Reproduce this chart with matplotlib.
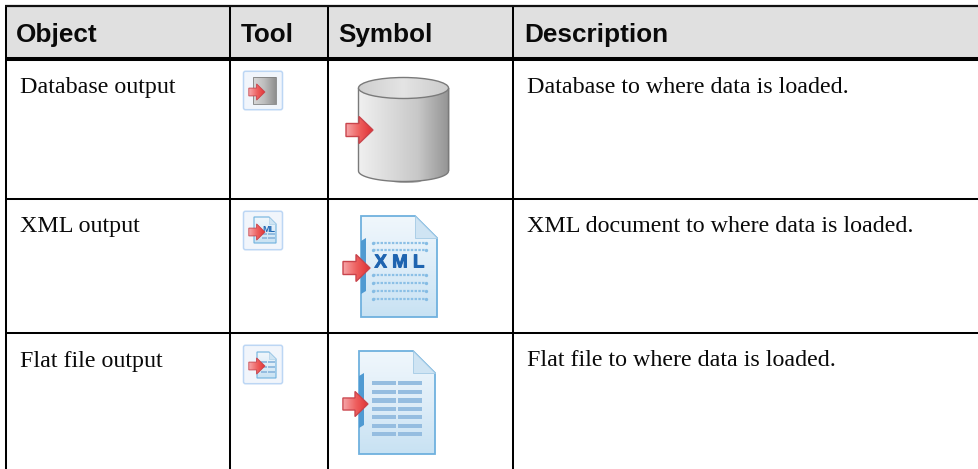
import numpy as np
import matplotlib
matplotlib.use("Agg")
import matplotlib.pyplot as plt
import matplotlib.patheffects as pe
from matplotlib.patches import Polygon, Rectangle, Ellipse, FancyBboxPatch
from matplotlib.colors import LinearSegmentedColormap as LSC

headers = ["Object", "Tool", "Symbol", "Description"]
objects = ["Database output", "XML output", "Flat file output"]
descriptions = ["Database to where data is loaded.",
                "XML document to where data is loaded.",
                "Flat file to where data is loaded."]
kinds = ["db", "xml", "flat"]

W, H = 979, 469
col_edges = [6, 230.5, 328, 513.5]
row_edges = [6.3, 59, 199, 333.5]
header_x = [16, 241, 338, 524]
header_baseline = [42.0, 41.5, 42.0, 42.0]
row_baseline = [93, 232, 366.5]
icon_tops = [71, 211, 345]

fig = plt.figure(figsize=(W / 100, H / 100), dpi=100, facecolor="white")
ax = fig.add_axes([0, 0, 1, 1])
ax.set_xlim(0, W)
ax.set_ylim(H, 0)
ax.axis("off")

ax.add_patch(Rectangle((col_edges[0], row_edges[0]), W - col_edges[0],
                       row_edges[1] - row_edges[0], fc="#e0e0e0", ec="none", zorder=0))
for x in col_edges:
    ax.plot([x, x], [row_edges[0], H], color="black", lw=1.45, zorder=5, solid_capstyle="butt")
ax.plot([5, W], [row_edges[0]] * 2, color="#111111", lw=1.6, zorder=5, solid_capstyle="butt")
ax.plot([5, W], [row_edges[1]] * 2, color="black", lw=2.9, zorder=5, solid_capstyle="butt")
for y in row_edges[2:]:
    ax.plot([5, W], [y, y], color="black", lw=1.45, zorder=5, solid_capstyle="butt")

for x, b, h in zip(header_x, header_baseline, headers):
    ax.text(x, b, h, family="Liberation Sans", weight="bold",
            fontsize=18.85, va="baseline", ha="left", color="#0a0a0a")
for obj, desc, y in zip(objects, descriptions, row_baseline):
    ax.text(20, y, obj, family="Liberation Serif", fontsize=17.3,
            va="baseline", ha="left", color="#0a0a0a")
    ax.text(527, y, desc, family="Liberation Serif", fontsize=17.3,
            va="baseline", ha="left", color="#0a0a0a")


def grad(x0, y0, x1, y1, colors, clip, horizontal=True, z=2):
    g = np.linspace(0, 1, 64)
    g = g[None, :] if horizontal else g[:, None]
    im = ax.imshow(g, extent=[x0, x1, y1, y0], cmap=LSC.from_list("g", colors),
                   aspect="auto", zorder=z, interpolation="bilinear")
    im.set_clip_path(clip)
    return im


def arrow(tip, cy, s):
    pts = [(tip - 27 * s, cy - 6.5 * s), (tip - 14 * s, cy - 6.5 * s), (tip - 14 * s, cy - 13.5 * s),
           (tip, cy), (tip - 14 * s, cy + 13.5 * s), (tip - 14 * s, cy + 6.5 * s), (tip - 27 * s, cy + 6.5 * s)]
    p = Polygon(pts, closed=True, fc="none", ec="#c9444c", lw=1.0 * max(s, .5), zorder=8)
    ax.add_patch(p)
    grad(tip - 27 * s, cy - 13.5 * s, tip, cy + 13.5 * s, ["#f6a5a8", "#ee5f5e", "#e03034"], p, z=7)


def cylinder(x0, x1, top, bottom, ry, lw=1.0):
    cx, rx = (x0 + x1) / 2, (x1 - x0) / 2
    t = np.linspace(0, np.pi, 40)
    arc = list(zip(cx + rx * np.cos(t), bottom + ry * np.sin(t)))
    ax.add_patch(Ellipse((cx + 3, bottom + ry - .5), 30, 4, fc="#a8a8a8", ec="none", zorder=2))
    ax.add_patch(Rectangle((x1, top), 2, bottom - top, fc="#d8d8d8", ec="none", zorder=2))
    body = Polygon([(x1, top)] + arc + [(x0, top)], closed=True, fc="none", ec="#7a7a7a", lw=lw, zorder=4)
    ax.add_patch(body)
    grad(x0, top, x1, bottom + ry, ["#f0f0f0", "#dcdcdc", "#c8c8c8", "#969696"], body, z=3)
    lid = Ellipse((cx, top), x1 - x0, 2 * ry, fc="none", ec="#7a7a7a", lw=lw, zorder=5)
    ax.add_patch(lid)
    grad(x0, top - ry, x1, top + ry, ["#cfcfcf", "#e4e4e4", "#cccccc"], lid, z=4.5)


def document(x0, x1, y0, y1, fold, lw=1.3, spine=None):
    pts = [(x0, y0), (x1 - fold, y0), (x1, y0 + fold), (x1, y1), (x0, y1)]
    doc = Polygon(pts, closed=True, fc="none", ec="#6fb1de", lw=lw, zorder=3)
    ax.add_patch(doc)
    grad(x0, y0, x1, y1, ["#f0f7fc", "#deedf8", "#c8e2f3"], doc, horizontal=False)
    f = Polygon([(x1 - fold, y0), (x1 - fold, y0 + fold), (x1, y0 + fold)], closed=True,
                fc="#cfe4f3", ec="#a8cde6", lw=lw * .5, zorder=4)
    ax.add_patch(f)
    if spine:
        ax.add_patch(Polygon([(x0, spine[0] + 3), (x0 + 5, spine[0]), (x0 + 5, spine[1] - 3), (x0, spine[1])],
                             closed=True, fc="#4f9ad2", ec="none", zorder=5))


def xml_marks(x0, x1, ys):
    for y in ys:
        ax.plot([x0, x1], [y, y], color="#8cc0e6", lw=1.6, ls=(0, (1.1, 0.6)), zorder=5)
        ax.plot([x0, x1], [y, y], ls="none", marker="o", ms=2.4, color="#85bce4", mec="none", zorder=5)


def flat_marks(x0, x1, ys, h, mid, gap=1):
    for y in ys:
        ax.add_patch(Rectangle((x0, y), mid - x0 - gap, h, fc="#95bde0", ec="none", zorder=5))
        ax.add_patch(Rectangle((mid + gap, y), x1 - mid - gap, h, fc="#95bde0", ec="none", zorder=5))


for kind, top in zip(kinds, icon_tops):
    ax.add_patch(FancyBboxPatch((243.5, top + .3), 39, 38.4, boxstyle="round,pad=0,rounding_size=2",
                                fc="#f1f5fb", ec="#bcd6f4", lw=1.1, zorder=2))
    if kind == "db":
        r = Rectangle((253, 77), 23, 27, fc="none", ec="#808080", lw=.6, zorder=3)
        ax.add_patch(r)
        grad(253, 77, 276, 104, ["#d8d8d8", "#bdbdbd", "#8f8f8f"], r)
        arrow(265, 92, .6)
        cylinder(358.5, 448.5, 88, 171, 10.5)
        arrow(373, 130, 1.0)
    elif kind == "xml":
        document(254, 276, 217, 243, 7, lw=.8)
        ax.text(269, 229, "ML", family="Liberation Sans", weight="bold", color="#2068b4",
                fontsize=6.5, ha="center", va="center", zorder=6)
        flat_marks(262, 275, [233, 237], 2.5, 268, .5)
        arrow(265, 232, .6)
        document(361, 437, 216, 317, 22, spine=(238, 294))
        xml_marks(373, 426, [243, 250, 275, 283, 291, 299])
        ax.text(399.5, 263, "X M L", family="Liberation Sans", weight="bold", color="#1f64b0",
                fontsize=13.5, ha="center", va="center", zorder=6,
                path_effects=[pe.withStroke(linewidth=.7, foreground="#1f64b0")])
        arrow(370, 268, 1.0)
    else:
        document(257, 276, 352, 378, 7, lw=.8)
        flat_marks(261, 275, [361, 366, 371], 2.5, 268, .5)
        arrow(265, 366, .6)
        document(359, 435, 351, 454, 22, spine=(373, 428))
        flat_marks(372, 422, [381, 389.7, 398.5, 406.8, 415, 423.7, 432], 4.5, 397)
        arrow(368, 404, .93)

fig.savefig("out.png", dpi=100, facecolor="white")
